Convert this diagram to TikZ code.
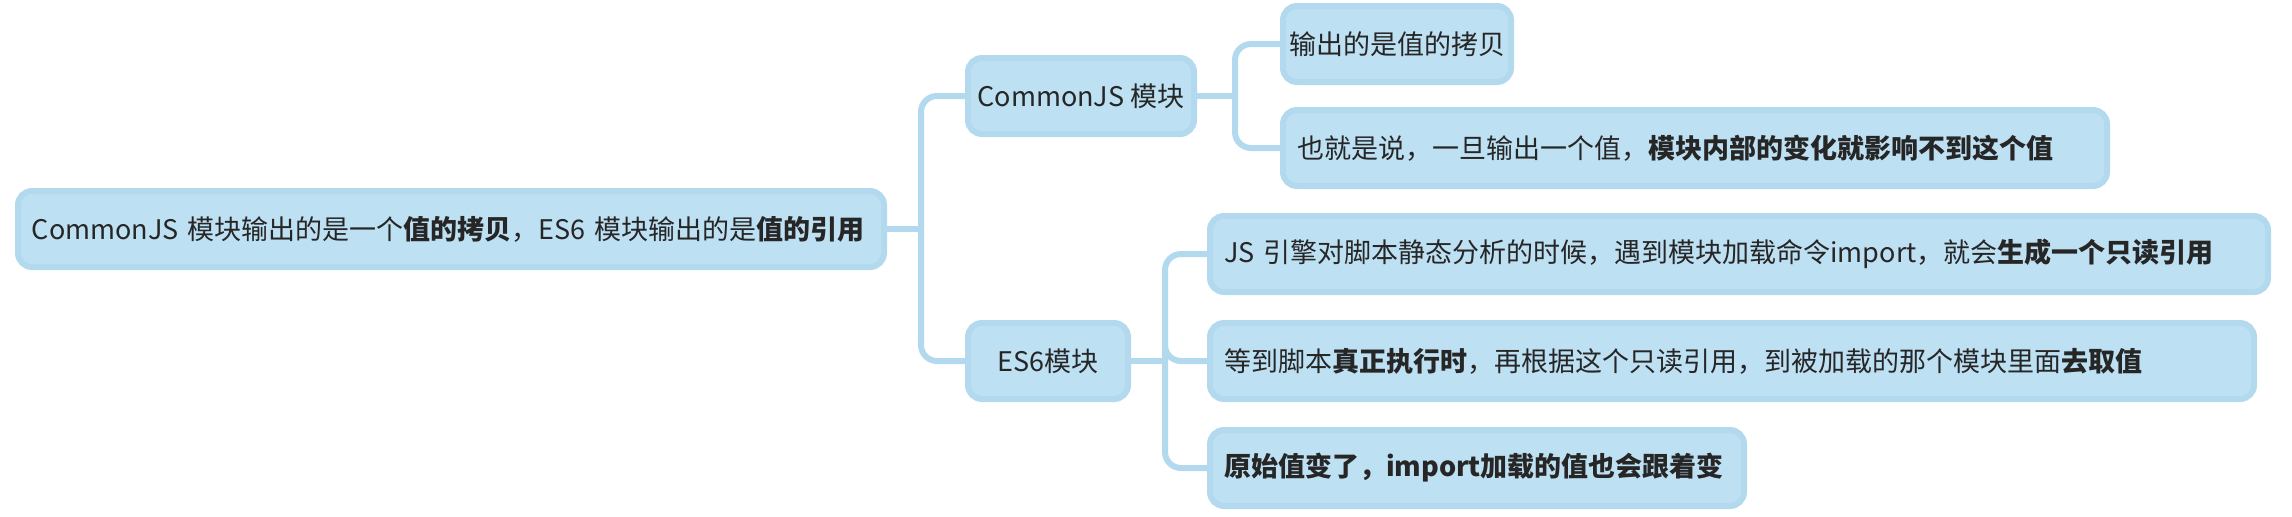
\documentclass[tikz,border=0pt]{standalone}
\usepackage{fontspec}
\setmainfont{Noto Sans CJK SC}
\definecolor{boxfill}{HTML}{BEE0F3}
\definecolor{boxline}{HTML}{B3D9EF}
\tikzset{
  mbox/.style={anchor=west, fill=boxfill, draw=boxline, line width=3pt,
    rounded corners=7pt, minimum height=38pt, inner xsep=7pt, align=left,
    font=\fontsize{13.5pt}{16pt}\selectfont, text=black!85},
  sbox/.style={mbox, inner xsep=3pt, align=center},
  conn/.style={draw=boxline, line width=3pt, rounded corners=8pt}
}
\begin{document}
\begin{tikzpicture}[x=0.5pt,y=-0.5pt]
\useasboundingbox (0,0) rectangle (2292,516);
\node[mbox, text width=419pt] (root) at (15,229) {CommonJS 模块输出的是一个\textbf{值的拷贝}，ES6 模块输出的是\textbf{值的引用}};
\node[sbox, minimum width=113pt] (cjs) at (965,96) {CommonJS 模块};
\node[sbox, minimum width=80pt] (es6) at (965,361) {ES6模块};
\node[sbox, minimum width=114pt] (c1) at (1280,44) {输出的是值的拷贝};
\node[mbox, text width=398pt] (c2) at (1280,148) {也就是说，一旦输出一个值，\textbf{模块内部的变化就影响不到这个值}};
\node[mbox, text width=515pt] (e1) at (1207,254) {JS 引擎对脚本静态分析的时候，遇到模块加载命令import，就会\textbf{生成一个只读引用}};
\node[mbox, text width=508pt] (e2) at (1207,361) {等到脚本\textbf{真正执行时}，再根据这个只读引用，到被加载的那个模块里面\textbf{去取值}};
\node[mbox, text width=253pt] (e3) at (1207,468) {\textbf{原始值变了，import加载的值也会跟着变}};
\coordinate (j1) at (921,229);
\coordinate (j2) at (1235,96);
\coordinate (j3) at (1165,361);
\draw[conn] (root.east) -- (j1);
\draw[conn] (j1) |- (cjs.west);
\draw[conn] (j1) |- (es6.west);
\draw[conn] (cjs.east) -- (j2);
\draw[conn] (j2) |- (c1.west);
\draw[conn] (j2) |- (c2.west);
\draw[conn] (es6.east) -- (j3);
\draw[conn] (j3) |- (e1.west);
\draw[conn] (j3) |- (e2.west);
\draw[conn] (j3) |- (e3.west);
\end{tikzpicture}
\end{document}
